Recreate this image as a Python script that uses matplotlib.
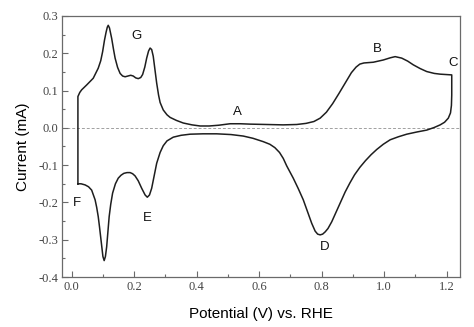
import matplotlib
matplotlib.use("Agg")
import matplotlib.pyplot as plt
from matplotlib.ticker import MultipleLocator, FormatStrFormatter

# Anodic (forward) sweep: potential (V vs. RHE) and current (mA)
potential_fwd = [
    0.020, 0.020, 0.026, 0.032, 0.048, 0.069, 0.085, 0.093, 0.099, 0.105,
    0.110, 0.114, 0.117, 0.121, 0.128, 0.134, 0.139, 0.147, 0.155, 0.163,
    0.171, 0.180, 0.189, 0.197, 0.205, 0.213, 0.221, 0.227, 0.234, 0.240,
    0.246, 0.251, 0.256, 0.261, 0.266, 0.272, 0.278, 0.283, 0.293, 0.305,
    0.315, 0.335, 0.357, 0.385, 0.411, 0.440, 0.470, 0.507, 0.540, 0.570,
    0.620, 0.677, 0.720, 0.750, 0.775, 0.795, 0.815, 0.835, 0.855, 0.875,
    0.895, 0.910, 0.922, 0.935, 0.965, 0.997, 1.020, 1.035, 1.056, 1.075,
    1.093, 1.115, 1.136, 1.160, 1.179, 1.216,
]
current_fwd = [
    -0.150, 0.084, 0.095, 0.102, 0.115, 0.133, 0.160, 0.180, 0.204, 0.235,
    0.256, 0.270, 0.275, 0.268, 0.240, 0.210, 0.187, 0.162, 0.146, 0.139,
    0.137, 0.139, 0.141, 0.139, 0.134, 0.132, 0.135, 0.143, 0.163, 0.187,
    0.206, 0.214, 0.210, 0.192, 0.160, 0.120, 0.088, 0.068, 0.048, 0.035,
    0.028, 0.020, 0.013, 0.008, 0.005, 0.005, 0.007, 0.011, 0.011, 0.010,
    0.009, 0.008, 0.009, 0.012, 0.017, 0.026, 0.042, 0.065, 0.092, 0.120,
    0.148, 0.163, 0.171, 0.174, 0.176, 0.182, 0.188, 0.191, 0.187, 0.179,
    0.169, 0.159, 0.151, 0.146, 0.144, 0.142,
]

# Cathodic (reverse) sweep
potential_rev = [
    1.216, 1.216, 1.215, 1.212, 1.205, 1.193, 1.179, 1.160, 1.136, 1.105,
    1.072, 1.045, 1.019, 0.997, 0.976, 0.958, 0.940, 0.922, 0.905, 0.890,
    0.875, 0.860, 0.845, 0.832, 0.820, 0.811, 0.803, 0.795, 0.787, 0.779,
    0.768, 0.755, 0.741, 0.725, 0.709, 0.698, 0.688, 0.677, 0.665, 0.650,
    0.634, 0.613, 0.580, 0.549, 0.510, 0.464, 0.420, 0.379, 0.350, 0.325,
    0.305, 0.293, 0.283, 0.272, 0.264, 0.256, 0.249, 0.242, 0.235, 0.224,
    0.213, 0.203, 0.195, 0.187, 0.177, 0.167, 0.158, 0.149, 0.140, 0.131,
    0.125, 0.120, 0.116, 0.112, 0.108, 0.104, 0.100, 0.096, 0.093, 0.089,
    0.085, 0.080, 0.075, 0.064, 0.054, 0.043, 0.030, 0.020,
]
current_rev = [
    0.142, 0.088, 0.060, 0.040, 0.026, 0.015, 0.008, 0.001, -0.006, -0.011,
    -0.017, -0.024, -0.032, -0.044, -0.058, -0.072, -0.088, -0.106, -0.126, -0.148,
    -0.172, -0.200, -0.228, -0.252, -0.270, -0.279, -0.285, -0.287, -0.285, -0.277,
    -0.256, -0.226, -0.193, -0.163, -0.135, -0.118, -0.102, -0.082, -0.066, -0.053,
    -0.044, -0.037, -0.028, -0.022, -0.018, -0.016, -0.016, -0.017, -0.020, -0.025,
    -0.035, -0.048, -0.066, -0.095, -0.128, -0.162, -0.180, -0.186, -0.180, -0.162,
    -0.142, -0.129, -0.123, -0.120, -0.120, -0.122, -0.127, -0.135, -0.150, -0.175,
    -0.205, -0.238, -0.280, -0.319, -0.345, -0.356, -0.345, -0.315, -0.292, -0.265,
    -0.238, -0.213, -0.193, -0.167, -0.158, -0.153, -0.150, -0.150,
]

# Peak annotations: letter, potential, current
peak_labels = ["A", "B", "C", "D", "E", "F", "G"]
peak_x = [0.530, 0.978, 1.221, 0.808, 0.242, 0.018, 0.206]
peak_y = [0.043, 0.212, 0.173, -0.320, -0.242, -0.202, 0.245]

x_ticks = [0.0, 0.2, 0.4, 0.6, 0.8, 1.0, 1.2]
y_ticks = [-0.4, -0.3, -0.2, -0.1, 0.0, 0.1, 0.2, 0.3]

fig = plt.figure(figsize=(4.74, 3.27), dpi=100)
ax = fig.add_axes([0.1314, 0.1529, 0.8401, 0.7982])

spine_color = "#6a6a6a"
for s in ax.spines.values():
    s.set_color(spine_color)
    s.set_linewidth(0.9)

ax.axhline(0.0, color="#a0a0a0", lw=0.7, ls=(0, (3, 2)), zorder=1)

ax.plot(potential_fwd + potential_rev, current_fwd + current_rev,
        color="#1e1e1e", lw=1.1, zorder=3)

for lab, px, py in zip(peak_labels, peak_x, peak_y):
    ax.text(px, py, lab, ha="center", va="center", fontsize=9.5,
            family="Liberation Sans", color="#111111")

ax.set_xlim(-0.030, 1.244)
ax.set_ylim(-0.4, 0.3)
ax.set_xticks(x_ticks)
ax.set_yticks(y_ticks)
ax.xaxis.set_minor_locator(MultipleLocator(0.1))
ax.yaxis.set_minor_locator(MultipleLocator(0.05))
ax.xaxis.set_major_formatter(FormatStrFormatter("%.1f"))
ax.yaxis.set_major_formatter(FormatStrFormatter("%.1f"))

ax.tick_params(axis="both", which="major", direction="in", length=4,
               width=0.8, color=spine_color, labelsize=9,
               labelcolor="#444444", pad=3)
ax.tick_params(axis="both", which="minor", direction="in", length=2.5,
               width=0.8, color=spine_color)
ax.tick_params(top=False, right=False, which="both")
for t in ax.get_xticklabels() + ax.get_yticklabels():
    t.set_family("Liberation Serif")

ax.set_xlabel("Potential (V) vs. RHE", family="Liberation Sans",
              fontsize=11, labelpad=10)
ax.set_ylabel("Current (mA)", family="Liberation Sans", fontsize=11,
              labelpad=6)

fig.savefig("out.png", dpi=100)
